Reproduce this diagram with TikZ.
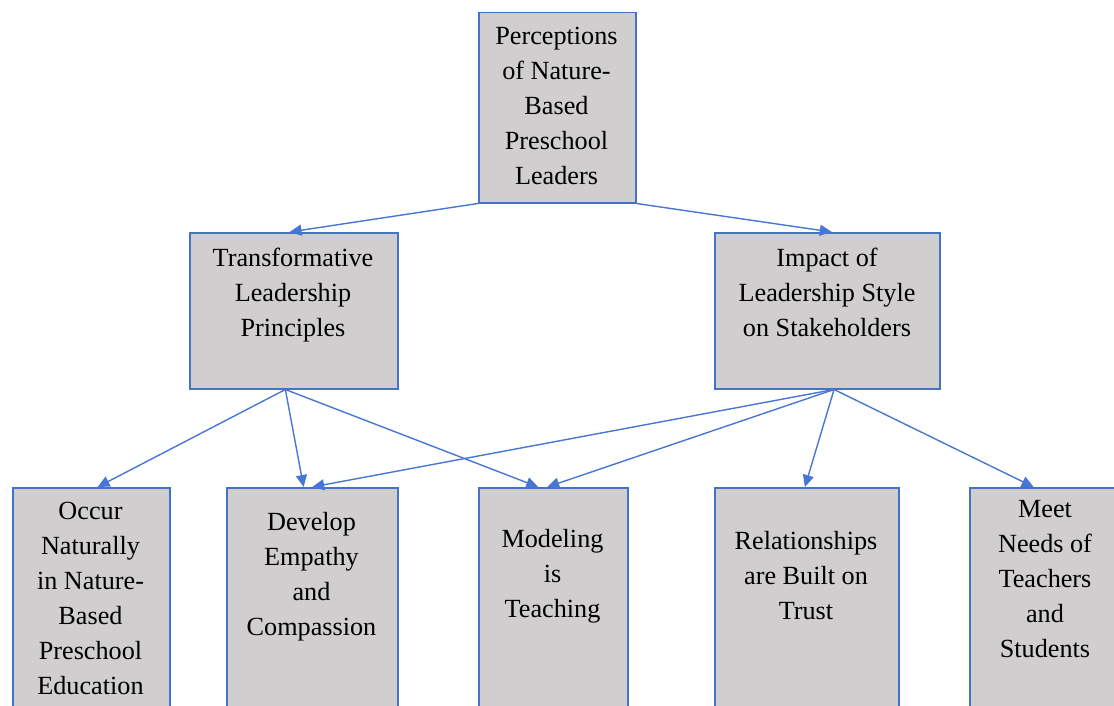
\documentclass[tikz,border=0pt]{standalone}
\usepackage{fontspec}
\setmainfont{Liberation Serif}
\usetikzlibrary{arrows.meta,calc}
\definecolor{boxfill}{RGB}{208,206,206}
\definecolor{boxline}{RGB}{68,114,196}
\definecolor{arrowc}{RGB}{72,118,214}
\begin{document}
\begin{tikzpicture}[x=1pt,y=-1pt,
  box/.style={draw=boxline,fill=boxfill,line width=1.5pt,anchor=north west,inner sep=0pt},
  lbl/.style={anchor=north,inner sep=0pt,align=center,font=\fontsize{26.2}{35}\selectfont},
  conn/.style={draw=arrowc,line width=1.4pt,-{Triangle[length=12pt,width=11pt]}}]
\useasboundingbox (0,0) rectangle (1114,706);
\begin{scope}
\clip (0,0) rectangle (1114,706);
% boxes
\node[box,minimum width=157pt,minimum height=190pt] (top) at (478,12) {};
\node[box,minimum width=208pt,minimum height=156pt] (trans) at (189,232) {};
\node[box,minimum width=225pt,minimum height=156pt] (impact) at (714,232) {};
\node[box,minimum width=157pt,minimum height=230pt] (occur) at (12,487) {};
\node[box,minimum width=171pt,minimum height=230pt] (develop) at (226,487) {};
\node[box,minimum width=149pt,minimum height=230pt] (model) at (478,487) {};
\node[box,minimum width=184pt,minimum height=230pt] (relat) at (714,487) {};
\node[box,minimum width=160pt,minimum height=230pt] (meet) at (969,487) {};
% labels
\node[lbl] (tTop) at (556.5,26.5) {Perceptions\\of Nature-\\Based\\Preschool\\Leaders};
\node[lbl] (tTrans) at (293,247.5) {Transformative\\Leadership\\Principles};
\node[lbl] (tImpact) at (827,247.5) {Impact of\\Leadership Style\\on Stakeholders};
\node[lbl] (tOccur) at (90.5,501.5) {Occur\\Naturally\\in Nature-\\Based\\Preschool\\Education};
\node[lbl] (tDevelop) at (311.5,512.5) {Develop\\Empathy\\and\\Compassion};
\node[lbl] (tModel) at (552.5,529.5) {Modeling\\is\\Teaching};
\node[lbl] (tRelat) at (806,531.5) {Relationships\\are Built on\\Trust};
\node[lbl] (tMeet) at (1045,500.5) {Meet\\Needs of\\Teachers\\and\\Students};
\end{scope}
% connectors
\draw[conn] (top.south west) -- ($(trans.north west)!0.48!(trans.north east)$);
\draw[conn] (top.south east) -- ($(impact.north west)!0.52!(impact.north east)$);
\coordinate (tb) at ($(trans.south west)!0.46!(trans.south east)$);
\coordinate (ib) at ($(impact.south west)!0.53!(impact.south east)$);
\draw[conn] (tb) -- ($(occur.north west)!0.54!(occur.north east)$);
\draw[conn] (tb) -- ($(develop.north west)!0.45!(develop.north east)$);
\draw[conn] (tb) -- ($(model.north west)!0.40!(model.north east)$);
\draw[conn] (ib) -- ($(develop.north west)!0.50!(develop.north east)$);
\draw[conn] (ib) -- ($(model.north west)!0.46!(model.north east)$);
\draw[conn] (ib) -- ($(relat.north west)!0.49!(relat.north east)$);
\draw[conn] (ib) -- ($(meet.north west)!0.40!(meet.north east)$);
\end{tikzpicture}
\end{document}
